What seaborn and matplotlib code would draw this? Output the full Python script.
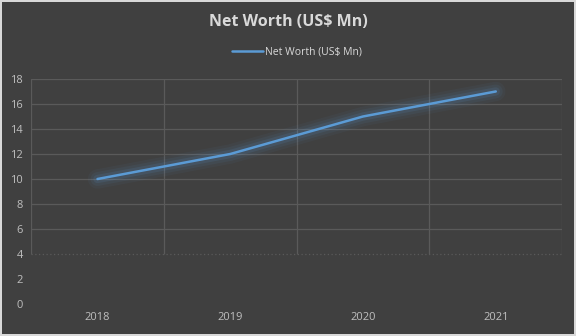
import matplotlib
matplotlib.use("Agg")
import matplotlib.pyplot as plt
import seaborn as sns
import pandas as pd
import numpy as np

years = ["2018", "2019", "2020", "2021"]
net_worth = [10, 12, 15, 17]
y_ticks = [0, 2, 4, 6, 8, 10, 12, 14, 16, 18]
title = "Net Worth (US$ Mn)"
series_name = "Net Worth (US$ Mn)"

df = pd.DataFrame({"Year": years, series_name: net_worth})

sns.set_theme(style="dark")
plt.rcParams['font.family'] = ['Open Sans', 'DejaVu Sans']

bg = "#404040"
fig = plt.figure(figsize=(5.76, 3.36), dpi=100, facecolor=bg)
fig.patch.set_edgecolor("#d9d9d9")
fig.patch.set_linewidth(1.5)
ax = fig.add_axes([0.054, 0.095, 0.922, 0.67])
ax.set_facecolor(bg)

x = np.arange(len(years))
# glow
for lw, a in [(14, 0.05), (10, 0.07), (6, 0.12)]:
    sns.lineplot(x=x, y=net_worth, ax=ax, color="#5b9bd5", lw=lw, alpha=a,
                 solid_capstyle="round", legend=False)
sns.lineplot(x=x, y=net_worth, ax=ax, color="#5b9bd5", lw=1.8,
             label=series_name, solid_capstyle="round")

ax.set_xlim(-0.5, len(years) - 0.5)
ax.set_ylim(0, 18)
ax.set_xticks(x)
ax.set_xticklabels(years)
ax.set_yticks(y_ticks)
ax.tick_params(colors="#bfbfbf", labelsize=8, length=0, pad=6)
ax.grid(False)
for s in ax.spines.values():
    s.set_visible(False)

gc = "#5a5a5a"
# gridlines (rendered from 4 to 18 as in reference)
for yv in y_ticks:
    if yv > 4:
        ax.axhline(yv, color=gc, lw=0.9, zorder=0)
ax.axhline(4, color=gc, lw=0.9, ls=(0, (1, 2)), zorder=0)
for xv in np.arange(-0.5, len(years), 1.0):
    ax.vlines(xv, 4, 18, color=gc, lw=0.9, zorder=0)

fig.text(0.5, 0.935, title, ha="center", va="center", color="#d9d9d9",
         fontsize=11.5, fontweight="bold")
leg = ax.legend(loc="center", bbox_to_anchor=(0.5, 1.12), frameon=False,
                fontsize=7.5, handlelength=3, handletextpad=0.2)
for t in leg.get_texts():
    t.set_color("#d9d9d9")

fig.savefig("out.png", dpi=100, facecolor=bg, edgecolor=fig.patch.get_edgecolor())
